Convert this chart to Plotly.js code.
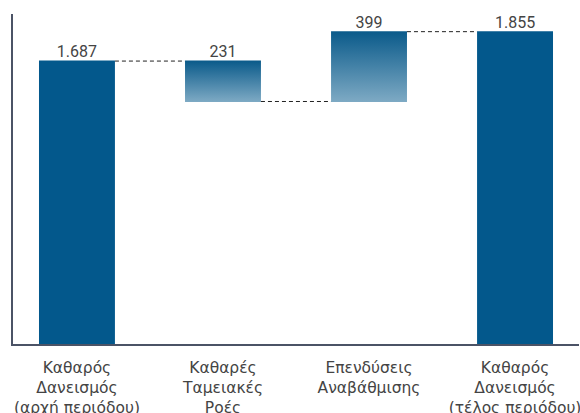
<!DOCTYPE html>
<html>
<head>
<meta charset="utf-8">
<script src="https://cdn.plot.ly/plotly-3.0.1.min.js"></script>
<style>html,body{margin:0;padding:0;background:#fff;}#chart{width:580px;height:413px;}</style>
</head>
<body>
<div id="chart"></div>
<script>
const categories = [
  "Καθαρός<br>Δανεισμός<br>(αρχή περιόδου)",
  "Καθαρές<br>Ταμειακές<br>Ροές",
  "Επενδύσεις<br>Αναβάθμισης",
  "Καθαρός<br>Δανεισμός<br>(τέλος περιόδου)"
];
const values = [1687, -231, 399, 1855];
const measures = ["absolute", "relative", "relative", "total"];

// running tops for the labels
const tops = [];
let run = 0;
for (let i = 0; i < values.length; i++) {
  if (measures[i] === "absolute" || measures[i] === "total") { run = values[i]; tops.push(run); }
  else { const prev = run; run += values[i]; tops.push(Math.max(prev, run)); }
}
const fmt = v => Math.abs(v).toString().replace(/\B(?=(\d{3})+(?!\d))/g, ".");
const labels = values.map(fmt);

const dark = "#03588C";
const FONT = "Roboto, 'Noto Sans', sans-serif";
const TICKFONT = "'DejaVu Sans', 'Noto Sans', sans-serif";

const traces = [
  {
    type: "waterfall",
    x: categories,
    y: values,
    measure: measures,
    width: 0.52,
    textposition: "none",
    hoverinfo: "skip",
    increasing: {marker: {color: dark}},
    decreasing: {marker: {color: dark}},
    totals: {marker: {color: dark}},
    connector: {mode: "between", line: {color: "#222222", width: 1, dash: "4px,3px"}}
  },
  {
    type: "scatter",
    mode: "text",
    x: categories,
    y: tops,
    text: labels,
    textposition: "top center",
    textfont: {family: FONT, size: 16, color: "#444444"},
    hoverinfo: "skip",
    cliponaxis: false
  }
];

const layout = {
  width: 580,
  height: 413,
  margin: {l: 13, r: 1, t: 14, b: 69},
  paper_bgcolor: "#ffffff",
  plot_bgcolor: "#ffffff",
  showlegend: false,
  font: {family: FONT, color: "#444444", size: 15},
  xaxis: {
    type: "category",
    range: [-0.438, 3.438],
    showline: true, linecolor: "#4b5366", linewidth: 2,
    showgrid: false, zeroline: false, ticks: "",
    ticklabelstandoff: 8,
    tickfont: {family: TICKFONT, size: 15.5, color: "#444444"}
  },
  yaxis: {
    range: [70, 1956],
    showline: true, linecolor: "#4b5366", linewidth: 2,
    showgrid: false, zeroline: false, showticklabels: false, ticks: ""
  }
};

Plotly.newPlot("chart", traces, layout, {staticPlot: true, displayModeBar: false}).then(gd => {
  const svg = gd.querySelector("svg.main-svg");
  const ns = "http://www.w3.org/2000/svg";
  let defs = svg.querySelector("defs");
  if (!defs) { defs = document.createElementNS(ns, "defs"); svg.insertBefore(defs, svg.firstChild); }
  const g = document.createElementNS(ns, "linearGradient");
  g.setAttribute("id", "wfgrad");
  g.setAttribute("x1", "0"); g.setAttribute("y1", "0");
  g.setAttribute("x2", "0"); g.setAttribute("y2", "1");
  const s1 = document.createElementNS(ns, "stop");
  s1.setAttribute("offset", "0"); s1.setAttribute("stop-color", "#0A5A8A");
  const s2 = document.createElementNS(ns, "stop");
  s2.setAttribute("offset", "1"); s2.setAttribute("stop-color", "#7EAAC4");
  g.appendChild(s1); g.appendChild(s2); defs.appendChild(g);
  const paths = gd.querySelectorAll(".trace.bars .point path");
  paths.forEach((p, i) => {
    if (measures[i] === "relative") p.style.fill = "url(#wfgrad)";
  });
});
</script>
</body>
</html>
